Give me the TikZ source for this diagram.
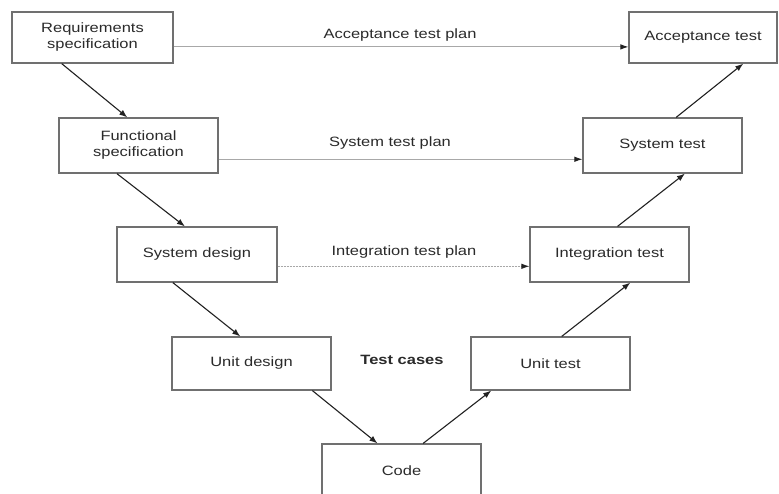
\documentclass[tikz,border=0pt]{standalone}
\usepackage{fontspec}
\setmainfont{Liberation Sans}[FakeStretch=1.22]
\usetikzlibrary{calc,arrows.meta}
\definecolor{boxline}{HTML}{707070}
\definecolor{txt}{HTML}{2A2A2A}
\definecolor{planline}{HTML}{A8A8A8}
\definecolor{arrowc}{HTML}{222222}
\tikzset{
  stage/.style={draw=boxline, line width=1.2pt, fill=white, text=txt,
    minimum width=#1, inner sep=0pt, align=center,
    font=\fontsize{13.5}{16}\selectfont},
  flow/.style={draw=arrowc, line width=1.1pt, -{Latex[length=8pt,width=6pt]}},
  plan/.style={draw=planline, line width=0.9pt, -{Latex[length=8pt,width=5.5pt,color=arrowc]}},
  planlabel/.style={text=txt, font=\fontsize{13.5}{16}\selectfont, inner sep=0pt},
}
\begin{document}
\begin{tikzpicture}[x=1pt,y=-1pt]
\useasboundingbox (0,0) rectangle (779,493);
\clip (0,0) rectangle (779,493);
\fill[white] (0,0) rectangle (779,493);

% left arm of the V
\node[stage=161pt, minimum height=51pt] (req) at (92.5,37.5) {Requirements\\specification};
\node[stage=159pt, minimum height=55pt] (func) at (138.5,145.5) {Functional\\specification};
\node[stage=160pt, minimum height=55pt] (sysd) at (197,254.5) {System design};
\node[stage=159pt, minimum height=53pt] (unitd) at (251.5,363.5) {Unit design};
% bottom
\node[stage=159pt, minimum height=54pt] (code) at (401.5,471) {Code};
% right arm of the V
\node[stage=159pt, minimum height=53pt] (unitt) at (550.5,363.5) {Unit test};
\node[stage=159pt, minimum height=55pt] (intt) at (609.5,254.5) {Integration test};
\node[stage=159pt, minimum height=55pt] (syst) at (662.5,145.5) {System test};
\node[stage=148pt, minimum height=51pt] (acc) at (703,37.5) {Acceptance test};

% test plans across the V
\draw[plan] ($(req.north east)!0.68!(req.south east)$) -- ($(acc.north west)!0.68!(acc.south west)$);
\draw[plan] ($(func.north east)!0.745!(func.south east)$) -- ($(syst.north west)!0.745!(syst.south west)$);
\draw[plan, dash pattern=on 2pt off 1pt] ($(sysd.north east)!0.71!(sysd.south east)$) -- ($(intt.north west)!0.71!(intt.south west)$);

\node[planlabel] (lacc) at (400,35) {Acceptance test plan};
\node[planlabel] (lsys) at (390,143) {System test plan};
\node[planlabel] (lint) at (404,252) {Integration test plan};
\node[planlabel, font=\fontsize{13.5}{16}\selectfont\bfseries] (lcases) at (402,360) {Test cases};

% down the left arm
\draw[flow] ($(req.south west)!0.31!(req.south east)$) -- ($(func.north west)!0.43!(func.north east)$);
\draw[flow] ($(func.south west)!0.365!(func.south east)$) -- ($(sysd.north west)!0.425!(sysd.north east)$);
\draw[flow] ($(sysd.south west)!0.35!(sysd.south east)$) -- ($(unitd.north west)!0.43!(unitd.north east)$);
\draw[flow] ($(unitd.south west)!0.88!(unitd.south east)$) -- ($(code.north west)!0.35!(code.north east)$);
% up the right arm
\draw[flow] ($(code.north west)!0.635!(code.north east)$) -- ($(unitt.south west)!0.13!(unitt.south east)$);
\draw[flow] ($(unitt.north west)!0.57!(unitt.north east)$) -- ($(intt.south west)!0.63!(intt.south east)$);
\draw[flow] ($(intt.north west)!0.55!(intt.north east)$) -- ($(syst.south west)!0.64!(syst.south east)$);
\draw[flow] ($(syst.north west)!0.585!(syst.north east)$) -- ($(acc.south west)!0.77!(acc.south east)$);
\end{tikzpicture}
\end{document}
